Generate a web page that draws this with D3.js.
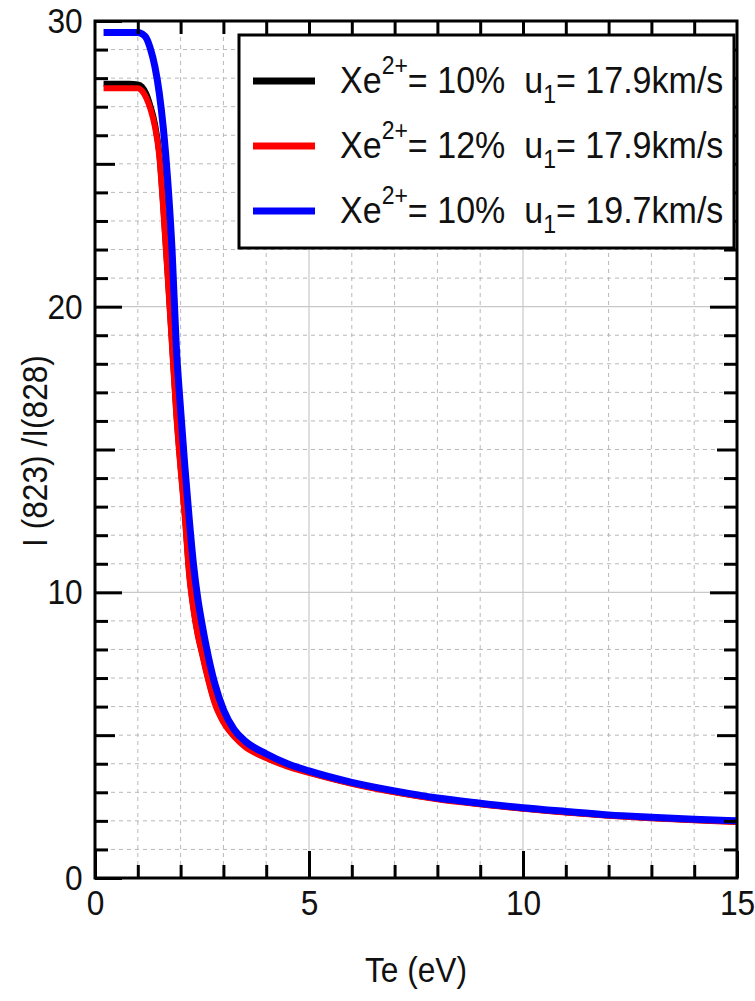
<!DOCTYPE html>
<html>
<head>
<meta charset="utf-8">
<script src="https://cdn.jsdelivr.net/npm/d3@7"></script>
<style>
  body { margin: 0; background: #fff; }
  text { font-family: "Liberation Sans", Arial, sans-serif; fill: #111; }
  .grid-minor line { stroke: #b8b8b8; stroke-width: 1; stroke-dasharray: 4,4; }
  .grid-major line { stroke: #c8c8c8; stroke-width: 1.2; }
  .tick-axis path { display: none; }
  .tick-axis line { stroke: #000; stroke-width: 3; }
</style>
</head>
<body>
<svg id="chart" width="755" height="1001"></svg>
<script>
// electron temperature samples (eV), shared by all three curves
var teValues = [0.2, 0.4, 0.6, 0.8, 1.0, 1.1, 1.2, 1.3, 1.4, 1.5, 1.6, 1.7, 1.8, 1.9, 2.0,
                2.1, 2.2, 2.3, 2.4, 2.5, 2.6, 2.8, 3.0, 3.25, 3.5, 4.0, 4.5, 5, 6, 7, 8,
                9, 10, 11, 12, 13, 14, 15];

// line ratio I(823)/I(828) for each case
var ratioXe10u179 = [27.8, 27.8, 27.8, 27.8, 27.78, 27.7, 27.45, 27.0, 26.4, 25.4, 23.4, 21.1, 18.7, 16.3, 14.4,
                     12.7, 10.7, 9.45, 8.55, 7.9, 7.25, 6.15, 5.5, 4.98, 4.63, 4.22, 3.92, 3.7, 3.31, 3.01, 2.77,
                     2.59, 2.43, 2.3, 2.19, 2.1, 2.03, 1.97];
var ratioXe12u179 = [27.65, 27.65, 27.65, 27.65, 27.65, 27.55, 27.3, 26.9, 26.3, 25.3, 23.3, 21.0, 18.6, 16.2, 14.3,
                     12.6, 10.6, 9.4, 8.5, 7.85, 7.2, 6.1, 5.45, 4.95, 4.6, 4.2, 3.9, 3.68, 3.3, 3.0, 2.76,
                     2.58, 2.42, 2.29, 2.18, 2.09, 2.02, 1.96];
var ratioXe10u197 = [29.6, 29.6, 29.6, 29.6, 29.6, 29.55, 29.4, 29.0, 28.4, 27.5, 26.2, 24.4, 22.0, 18.6, 16.4,
                     14.4, 12.6, 11.0, 9.8, 8.9, 8.1, 6.8, 5.9, 5.2, 4.8, 4.35, 4.0, 3.75, 3.35, 3.05, 2.8,
                     2.62, 2.46, 2.33, 2.21, 2.13, 2.06, 2.0];

var seriesNames = [["10%", "17.9km/s"], ["12%", "17.9km/s"], ["10%", "19.7km/s"]];
var seriesColors = ["#000000", "#ff0000", "#0000ff"];

var xTicks = [0, 5, 10, 15];
var yTicks = [0, 10, 20, 30];

var margin = {left: 95, top: 21, right: 18, bottom: 123};
var width = 755 - margin.left - margin.right;
var height = 1001 - margin.top - margin.bottom;

// text in the original is a little condensed
var squeeze = 'scale(0.88,1)';

var svg = d3.select('#chart');
var g = svg.append('g')
    .attr('transform', 'translate(' + margin.left + ',' + margin.top + ')');

var x = d3.scaleLinear().domain([0, 15]).range([0, width]);
var y = d3.scaleLinear().domain([0, 30]).range([height, 0]);

var minorX = d3.range(1, 15).filter(function (d) { return d % 5 != 0; });
var minorY = d3.range(1, 30).filter(function (d) { return d % 10 != 0; });

// dashed grid on every unit, solid grid on the labelled values
g.append('g').attr('class', 'grid-minor')
    .selectAll('line.v').data(minorX).enter().append('line')
    .attr('x1', d => x(d)).attr('x2', d => x(d))
    .attr('y1', 0).attr('y2', height);
g.append('g').attr('class', 'grid-minor')
    .selectAll('line.h').data(minorY).enter().append('line')
    .attr('y1', d => y(d)).attr('y2', d => y(d))
    .attr('x1', 0).attr('x2', width);
g.append('g').attr('class', 'grid-major')
    .selectAll('line').data([5, 10]).enter().append('line')
    .attr('x1', d => x(d)).attr('x2', d => x(d))
    .attr('y1', 0).attr('y2', height);
g.append('g').attr('class', 'grid-major')
    .selectAll('line').data([10, 20]).enter().append('line')
    .attr('y1', d => y(d)).attr('y2', d => y(d))
    .attr('x1', 0).attr('x2', width);

// curves
var line = d3.line()
    .curve(d3.curveMonotoneX)
    .x(function (d) { return x(d[0]); })
    .y(function (d) { return y(d[1]); });

var allSeries = [ratioXe10u179, ratioXe12u179, ratioXe10u197];
var lineWidths = [6, 6, 7];
allSeries.forEach(function (vals, i) {
    g.append('path')
        .datum(teValues.map(function (t, j) { return [t, vals[j]]; }))
        .attr('fill', 'none')
        .attr('stroke', seriesColors[i])
        .attr('stroke-width', lineWidths[i])
        .attr('stroke-linejoin', 'round')
        .attr('d', line);
});

// inward ticks on all four sides
function addTicks(axisFn, scale, values, len, translate, labels) {
    var ax = axisFn(scale).tickValues(values).tickSize(-len).tickPadding(labels ? 14 : 0);
    if (!labels) ax.tickFormat('');
    var a = g.append('g').attr('class', 'tick-axis')
        .attr('transform', translate)
        .call(ax);
    a.selectAll('text').style('font-size', '36px').attr('transform', squeeze);
    return a;
}
var bottomT = 'translate(0,' + height + ')';
var rightT = 'translate(' + width + ',0)';
addTicks(d3.axisBottom, x, minorX, 13, bottomT, false);
addTicks(d3.axisBottom, x, xTicks, 27, bottomT, true).selectAll('text').attr('dy', '0.56em').attr('y', 17);
addTicks(d3.axisTop, x, minorX, 13, null, false);
addTicks(d3.axisTop, x, [5, 10], 27, null, false);
addTicks(d3.axisLeft, y, minorY.filter(d => d % 5 != 0), 13, null, false);
addTicks(d3.axisLeft, y, [5, 15, 25], 20, null, false);
addTicks(d3.axisLeft, y, yTicks, 27, null, true);
addTicks(d3.axisRight, y, minorY.filter(d => d % 5 != 0), 13, rightT, false);
addTicks(d3.axisRight, y, [5, 15, 25], 20, rightT, false);
addTicks(d3.axisRight, y, [10, 20], 27, rightT, false);

// frame
g.append('rect')
    .attr('width', width).attr('height', height)
    .attr('fill', 'none').attr('stroke', '#000').attr('stroke-width', 3);

// axis titles
svg.append('g')
    .attr('transform', 'translate(' + (margin.left + width / 2) + ',982) ' + squeeze)
    .append('text')
    .attr('text-anchor', 'middle')
    .style('font-size', '36px')
    .text('Te (eV)');
svg.append('g')
    .attr('transform', 'translate(47,451) rotate(-90) ' + squeeze)
    .append('text')
    .attr('text-anchor', 'middle')
    .style('font-size', '36px')
    .style('white-space', 'pre')
    .text('I (823) /I(828)');

// legend
var legend = svg.append('g').attr('transform', 'translate(239,35)');
legend.append('rect')
    .attr('width', 495).attr('height', 213)
    .attr('fill', '#fff').attr('stroke', '#000').attr('stroke-width', 3);

var rows = legend.selectAll('g.row').data(seriesNames).enter().append('g')
    .attr('transform', function (d, i) { return 'translate(0,' + (46 + i * 65) + ')'; });
rows.append('line')
    .attr('x1', 14).attr('x2', 76)
    .attr('stroke', function (d, i) { return seriesColors[i]; })
    .attr('stroke-width', 7);
var txt = rows.append('g')
    .attr('transform', 'translate(101,12) scale(0.92,1)')
    .append('text')
    .style('font-size', '37px')
    .style('white-space', 'pre');
txt.append('tspan').text('Xe');
txt.append('tspan').attr('dy', -19).style('font-size', '25px').text('2+');
txt.append('tspan').attr('dy', 19).text(function (d) { return '= ' + d[0] + '  u'; });
txt.append('tspan').attr('dy', 10).style('font-size', '25px').text('1');
txt.append('tspan').attr('dy', -10).text(function (d) { return '= ' + d[1]; });
</script>
</body>
</html>
